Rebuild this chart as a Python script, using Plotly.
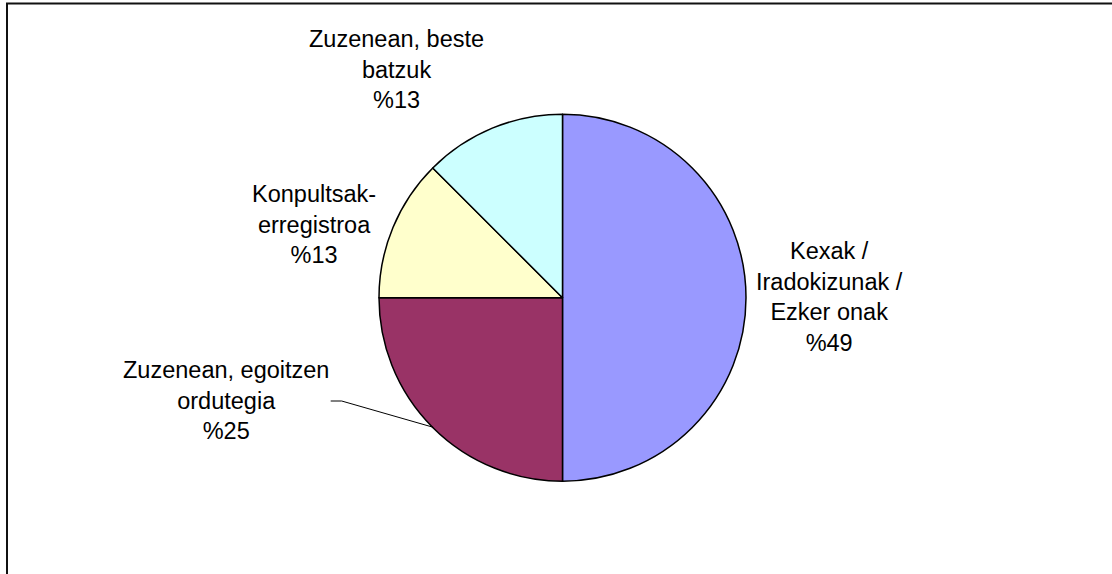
import plotly.graph_objects as go

W, H = 1112, 574

# Data
categories = ["Kexak / Iradokizunak / Ezker onak",
              "Zuzenean, egoitzen ordutegia",
              "Konpultsak-erregistroa",
              "Zuzenean, beste batzuk"]
shares = [50, 25, 12.5, 12.5]
pct_labels = ["%49", "%25", "%13", "%13"]
label_lines = [["Kexak /", "Iradokizunak /", "Ezker onak"],
               ["Zuzenean, egoitzen", "ordutegia"],
               ["Konpultsak-", "erregistroa"],
               ["Zuzenean, beste", "batzuk"]]
colors = ["#9999FF", "#993366", "#FFFFCC", "#CCFFFF"]

# Layout (pixel positions)
cx, cy, r = 562.5, 297.7, 183.5
label_pos = [(829.5, 296.5), (225.5, 400.0), (313.7, 224.5), (396.0, 69.5)]

def px(x):
    return x / W

def py(y):
    return 1 - y / H

fig = go.Figure()
fig.add_trace(go.Pie(
    labels=categories,
    values=shares,
    sort=False,
    direction="clockwise",
    rotation=0,
    marker=dict(colors=colors, line=dict(color="black", width=1.5)),
    textinfo="none",
    hoverinfo="label+percent",
    showlegend=False,
    domain=dict(x=[px(cx - r), px(cx + r)], y=[py(cy + r), py(cy - r)]),
))

for lines, pct, (lx, ly) in zip(label_lines, pct_labels, label_pos):
    fig.add_annotation(
        x=px(lx), y=py(ly), xref="paper", yref="paper",
        text="<br>".join(lines + [pct]),
        showarrow=False, xanchor="center", yanchor="middle", align="center",
        font=dict(family="Liberation Sans, Arial, sans-serif", size=23.5, color="black"),
    )

# leader line for the "Zuzenean, egoitzen ordutegia" label
fig.add_shape(type="path", xref="paper", yref="paper",
              path=f"M {px(330.7)} {py(401)} L {px(341.7)} {py(401)} L {px(433.3)} {py(427.3)}",
              line=dict(color="black", width=1))

# chart frame (right/bottom edges fall outside the picture)
fig.add_shape(type="rect", xref="paper", yref="paper",
              x0=px(7), y0=py(H + 10), x1=px(W + 10), y1=py(3.5),
              line=dict(color="#111111", width=2), fillcolor="rgba(0,0,0,0)")

fig.update_layout(
    width=W, height=H,
    margin=dict(l=0, r=0, t=0, b=0),
    paper_bgcolor="white", plot_bgcolor="white",
)

fig.write_html("out.html",
               config={"displayModeBar": False},
               post_script="document.body.style.margin='0';document.body.style.overflow='hidden';")
